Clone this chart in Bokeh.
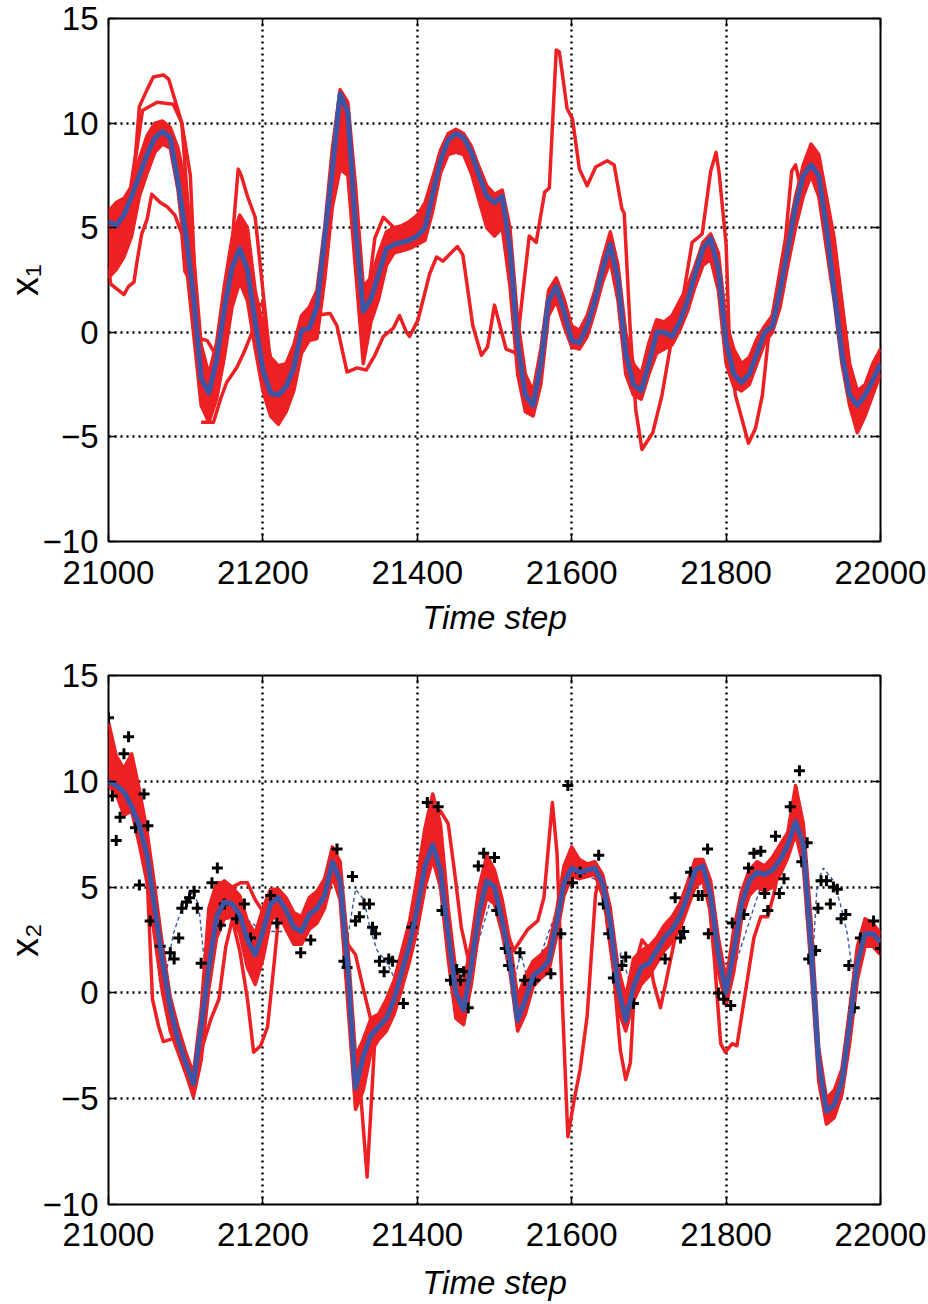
# -*- coding: utf-8 -*-
# Ensemble of forecasts for x1 and x2 over time steps 21000-22000
# red: ensemble members, blue: ensemble mean, black +: observations, dashed: truth

from bokeh.plotting import figure
from bokeh.layouts import column
from bokeh.models import FixedTicker, LinearAxis, Range1d
from bokeh.embed import file_html
from bokeh.resources import INLINE

RED = "#ED2024"
BLUE = "#3B56A6"
FONT = "Liberation Sans"

x_ticks = [21000, 21200, 21400, 21600, 21800, 22000]
y_ticks = [-10, -5, 0, 5, 10, 15]
y_labels = {-10: "\u221210", -5: "\u22125"}

# time axis of mean / band, every 10 steps
steps = list(range(21000, 22001, 10))

# ---- x1 ----
x1_mean = [5.3, 5.1, 5.6, 6.5, 7.5, 8.5, 9.3, 9.6, 9.3, 7.2,
           4.7, 1.8, -2.2, -2.9, -1.3, 1.1, 3.1, 4.0, 3.0, 0.5,
           -1.8, -2.9, -3.0, -2.6, -1.7, 0.1, 0.2, 1.2, 4.5, 7.8,
           11.4, 10.5, 5.0, 1.0, 1.6, 2.8, 4.0, 4.2, 4.3, 4.4,
           4.6, 5.0, 6.6, 8.2, 9.2, 9.5, 9.3, 8.6, 7.5, 6.5,
           6.2, 6.5, 4.0, -0.5, -3.0, -3.5, -1.5, 1.5, 2.2, 1.0,
           -0.4, -0.5, 0.3, 1.5, 3.0, 4.2, 2.5, -1.0, -2.5, -2.8,
           -1.5, 0.0, 0.0, -0.2, 0.5, 1.5, 2.8, 4.0, 4.5, 3.0,
           -0.5, -2.0, -2.4, -2.0, -1.0, 0.0, 0.3, 2.0, 4.0, 6.0,
           7.5, 8.0, 7.5, 5.0, 2.0, -1.0, -3.0, -3.5, -3.0, -2.3,
           -1.5]
x1_lo = [2.6, 3.0, 3.6, 4.6, 6.5, 7.6, 8.6, 9.0, 8.8, 6.8,
         3.5, 0.0, -3.5, -4.3, -3.2, -1.2, 1.2, 2.4, 1.5, -0.8,
         -2.8, -4.0, -4.4, -3.8, -2.8, -1.0, -0.4, -0.3, 2.5, 6.0,
         7.8, 7.5, 3.0, -1.5, 0.5, 1.6, 3.2, 3.8, 3.9, 4.0,
         4.2, 4.4, 5.8, 7.6, 8.5, 8.6, 8.5, 7.6, 6.3, 5.0,
         4.6, 5.0, 2.2, -2.0, -3.8, -4.0, -2.5, 0.8, 1.5, 0.3,
         -0.7, -0.8, -0.2, 1.0, 2.4, 3.4, 1.5, -2.0, -3.0, -3.2,
         -2.0, -1.0, -0.8, -0.6, 0.1, 1.0, 2.2, 3.2, 3.5, 2.0,
         -1.5, -2.6, -2.8, -2.5, -1.5, -0.5, 0.0, 1.2, 3.2, 5.0,
         6.5, 7.5, 6.5, 4.0, 1.5, -1.5, -3.5, -4.8, -4.0, -3.0,
         -2.0]
x1_hi = [5.8, 6.2, 6.4, 7.0, 8.3, 9.4, 10.0, 10.1, 9.8, 8.8,
         7.0, 3.8, -0.6, -2.0, -0.5, 2.2, 4.5, 5.6, 5.0, 2.0,
         0.3, -1.2, -1.6, -1.5, -0.6, 0.8, 1.2, 2.0, 5.0, 8.8,
         11.6, 11.0, 7.0, 2.2, 2.6, 3.8, 4.8, 5.0, 5.1, 5.3,
         5.6, 6.2, 7.4, 8.7, 9.5, 9.7, 9.5, 8.9, 7.9, 7.0,
         6.6, 6.8, 5.0, 0.6, -2.0, -2.8, -0.8, 2.0, 2.6, 1.6,
         0.3, 0.1, 0.8, 2.0, 3.5, 4.8, 3.2, 0.0, -1.5, -2.0,
         -0.5, 0.6, 0.5, 0.8, 1.5, 2.2, 3.2, 4.3, 4.7, 3.8,
         0.5, -0.8, -1.5, -1.2, -0.3, 0.3, 0.8, 2.5, 4.6, 6.5,
         8.0, 9.0, 8.5, 6.5, 4.5, 1.5, -1.5, -2.8, -2.5, -1.5,
         -0.8]

# x1 members that leave the main band
x1_high_a = ([21025, 21035, 21040, 21050, 21058, 21071, 21078, 21087, 21095, 21106, 21112],
             [6.0, 8.5, 10.8, 11.6, 12.2, 12.3, 12.1, 11.0, 10.0, 7.5, 2.5])
x1_high_b = ([21030, 21044, 21063, 21084, 21095, 21103],
             [7.0, 10.6, 11.0, 10.9, 10.0, 6.0])
x1_low_a = ([21000, 21003, 21020, 21026, 21033, 21037, 21043, 21050, 21056, 21067,
             21076, 21086, 21095, 21099, 21106, 21119, 21128, 21136, 21145, 21155],
            [3.1, 2.3, 1.8, 2.2, 2.4, 3.4, 4.7, 5.4, 6.6, 6.2,
             6.0, 5.6, 4.7, 2.9, 2.5, -0.3, -0.4, -0.9, -1.3, 0.5])
x1_low_b = ([21120, 21136, 21145, 21153, 21166, 21175, 21186, 21192, 21200, 21210],
            [-4.3, -4.3, -3.2, -2.4, -1.7, -1.0, 0.0, 1.2, 1.4, -2.0])
x1_spike = ([21155, 21168, 21172, 21180, 21190, 21200, 21210],
            [2.0, 7.8, 7.5, 6.5, 5.5, 2.0, -1.5])
x1_upper = ([21335, 21345, 21356, 21370, 21386, 21400],
            [1.5, 4.5, 5.5, 5.0, 4.7, 4.8])
x1_stray = ([21250, 21265, 21287, 21296, 21309, 21322, 21334, 21345, 21356, 21369,
             21377, 21386, 21390, 21401, 21416, 21425, 21433, 21452, 21459, 21472,
             21483, 21491, 21500, 21515, 21528, 21537, 21545, 21554, 21565, 21571,
             21580, 21584, 21594, 21601, 21610, 21620, 21631, 21646, 21655, 21665,
             21668, 21676, 21683, 21691, 21705, 21717, 21730, 21743, 21756, 21769,
             21780, 21787, 21791, 21800, 21804, 21812, 21829, 21838, 21847, 21855,
             21864, 21877, 21885, 21890, 21896, 21905, 21915],
            [0.0, 0.8, 0.9, 0.3, -1.9, -1.7, -1.8, -1.1, -0.2, 0.2,
             0.8, 0.0, -0.2, 0.6, 2.8, 3.6, 3.4, 4.1, 3.7, 0.3,
             -1.1, -0.7, 1.3, -0.8, -1.0, 2.0, 4.6, 4.3, 6.7, 6.9,
             13.5, 13.4, 10.7, 10.2, 7.8, 7.0, 7.9, 8.2, 8.0, 5.9,
             5.7, 0.0, -3.7, -5.6, -4.8, -3.0, -0.2, 1.4, 4.3, 4.7,
             7.7, 8.6, 7.6, 4.2, -0.2, -3.0, -5.3, -4.6, -3.0, -0.2,
             1.7, 4.5, 7.7, 8.0, 7.0, 7.5, 8.0])
x1_members = [x1_high_a, x1_high_b, x1_low_a, x1_low_b, x1_spike, x1_upper, x1_stray]

# ---- x2 ----
x2_mean = [10.0, 9.8, 9.5, 8.8, 7.9, 6.5, 4.0, 1.5, -0.7, -2.2,
           -3.3, -4.3, -1.6, 1.2, 3.6, 4.3, 4.2, 3.7, 2.5, 1.8,
           2.9, 4.2, 4.5, 3.9, 3.1, 2.9, 3.7, 4.0, 4.6, 6.2,
           5.3, 1.2, -4.5, -3.0, -2.0, -1.6, -1.2, -0.3, 1.0, 2.3,
           4.0, 6.0, 7.0, 5.8, 2.8, 0.0, -0.8, 1.3, 3.8, 5.3,
           5.0, 3.4, 1.6, -1.3, -0.3, 0.8, 1.1, 1.5, 3.2, 5.2,
           5.9, 5.7, 5.8, 5.9, 5.2, 3.3, 0.3, -1.3, 0.3, 1.2,
           1.4, 2.0, 2.6, 3.0, 3.6, 4.6, 5.8, 6.0, 4.6, 1.8,
           0.0, 2.0, 4.2, 5.3, 5.7, 5.6, 5.8, 6.3, 7.0, 8.1,
           7.0, 2.2, -3.3, -5.6, -5.3, -4.2, -1.5, 1.4, 2.8, 2.8,
           2.4]
x2_lo = [9.8, 9.4, 8.4, 8.6, 7.0, 5.2, 2.6, 0.0, -1.8, -2.8,
         -3.8, -4.9, -3.2, 0.2, 2.6, 3.5, 3.6, 2.8, 1.2, 0.4,
         1.6, 3.4, 3.8, 3.0, 2.3, 2.3, 3.0, 3.3, 4.0, 5.5,
         4.4, -0.5, -5.5, -4.6, -2.8, -2.2, -1.8, -1.0, 0.2, 1.5,
         3.0, 5.0, 6.3, 5.0, 1.6, -1.2, -1.5, 0.4, 3.0, 4.5,
         4.2, 2.8, 1.0, -1.8, -1.0, 0.3, 0.7, 1.0, 2.6, 4.6,
         5.5, 5.4, 5.5, 5.6, 4.6, 2.6, -0.8, -1.8, -0.4, 0.4,
         0.8, 1.4, 2.0, 2.4, 3.0, 4.0, 5.0, 5.3, 3.8, 1.0,
         -0.6, 1.0, 3.5, 4.6, 5.0, 4.8, 5.0, 5.6, 6.4, 7.5,
         6.0, 1.2, -4.2, -6.2, -5.9, -4.8, -2.4, 0.6, 2.2, 2.2,
         1.8]
x2_hi = [12.8, 11.2, 10.6, 11.3, 9.6, 7.6, 5.0, 2.2, -0.2, -1.6,
         -2.8, -3.8, -0.8, 4.0, 5.2, 5.2, 5.0, 4.6, 3.4, 2.8,
         4.0, 4.9, 4.9, 4.5, 3.8, 3.6, 4.5, 4.8, 5.4, 6.9,
         6.2, 2.2, -3.0, -2.2, -1.2, -1.0, -0.3, 0.6, 2.0, 3.4,
         5.5, 7.8, 9.4, 8.0, 4.0, 1.0, 0.4, 2.4, 5.0, 6.5,
         5.8, 4.4, 2.4, -0.2, 0.8, 1.5, 1.8, 2.2, 3.8, 6.0,
         6.9, 6.3, 6.1, 6.2, 5.6, 4.0, 1.2, -0.2, 1.6, 2.0,
         2.2, 2.6, 3.2, 3.6, 4.2, 5.2, 6.3, 6.3, 5.3, 2.6,
         0.6, 3.0, 4.8, 5.8, 6.2, 6.0, 6.4, 7.0, 7.6, 9.8,
         8.0, 3.4, -2.6, -5.0, -4.6, -3.6, -0.8, 2.2, 3.5, 3.3,
         2.8]

# x2 members that leave the main band
x2_drop = ([21050, 21057, 21065, 21071, 21089, 21110],
           [5.5, -0.3, -1.6, -2.3, -2.1, -4.5])
x2_lag = ([21110, 21122, 21132, 21143, 21152, 21160, 21170],
          [-4.5, -2.5, -1.3, -0.3, 2.2, 3.4, 3.8])
x2_top = ([21140, 21150, 21160, 21171, 21180, 21190, 21201, 21210],
          [5.0, 5.3, 5.0, 5.2, 5.2, 4.4, 3.8, 4.2])
x2_dip = ([21160, 21170, 21180, 21188, 21197, 21206, 21214, 21222],
          [3.5, 2.0, -0.3, -2.8, -2.5, -1.6, 1.2, 4.2])
x2_slow = ([21300, 21310, 21320, 21330, 21342],
           [5.5, 2.3, 1.8, 0.2, -1.6])
x2_needle = ([21325, 21335, 21345],
             [-4.0, -8.7, -2.2])
x2_late = ([21415, 21430, 21440, 21448, 21457, 21469, 21480],
           [7.5, 8.6, 8.0, 5.8, 3.1, 1.1, 3.0])
x2_swing = ([21510, 21525, 21543, 21556, 21564, 21575, 21581, 21588, 21595, 21603,
             21611, 21620, 21627, 21631, 21637],
            [3.5, 2.0, 3.0, 3.4, 4.5, 9.0, 6.6, -0.5, -6.8, -5.1,
             -3.6, -1.1, 2.6, 4.7, 5.5])
x2_wobble = ([21645, 21654, 21663, 21670, 21676, 21683, 21691, 21698, 21706, 21715,
              21722, 21735],
             [3.5, 1.1, -2.7, -4.1, -3.3, 1.4, 2.5, 2.2, 0.5, -0.7, 0.5, 2.8])
x2_valley = ([21775, 21785, 21793, 21799, 21808, 21814, 21827, 21836, 21845, 21854,
              21862, 21870],
             [5.5, 1.5, -2.4, -2.8, -2.4, -2.5, 0.5, 2.6, 3.6, 3.6, 4.7, 6.2])
x2_members = [x2_drop, x2_lag, x2_top, x2_dip, x2_slow, x2_needle, x2_late,
              x2_swing, x2_wobble, x2_valley]

# truth (dashed), only seen where it leaves the ensemble
truth_t = [21000, 21020, 21040, 21050, 21060, 21067, 21074, 21084, 21097, 21110,
           21117, 21123, 21128, 21140, 21150, 21200, 21250, 21290, 21300, 21308,
           21320, 21331, 21339, 21348, 21361, 21369, 21375, 21390, 21420, 21445,
           21456, 21470, 21500, 21525, 21534, 21540, 21550, 21600, 21640, 21650,
           21659, 21664, 21675, 21700, 21770, 21800, 21850, 21890, 21900, 21912,
           21918, 21926, 21939, 21948, 21957, 21963, 21967, 21980, 22000]
truth_v = [10.0, 9.5, 7.9, 6.0, 2.5, 0.3, 0.8, 2.8, 4.2, 4.8,
           4.1, 1.9, 0.5, 3.6, 4.3, 2.9, 2.9, 6.2, 5.2, 2.2,
           4.9, 4.4, 3.0, 2.0, 1.4, 0.8, 0.3, 2.3, 7.0, 1.5,
           0.8, 1.3, 5.0, 0.5, 1.9, 1.0, 0.8, 5.9, 5.2, 3.3,
           1.5, 1.9, 0.5, 1.4, 6.0, 0.0, 5.6, 8.1, 7.0, 1.5,
           5.2, 5.9, 5.3, 4.2, 2.8, 1.2, 0.1, 2.8, 2.4]

# observations of x2
obs_t = [21000, 21005, 21010, 21015, 21020, 21026, 21035, 21040, 21046, 21051,
         21054, 21067, 21080, 21085, 21091, 21095, 21101, 21105, 21111, 21115,
         21120, 21134, 21141, 21145, 21150, 21166, 21176, 21184, 21210, 21218,
         21249, 21262, 21296, 21305, 21309, 21316, 21320, 21325, 21331, 21338,
         21342, 21346, 21351, 21357, 21363, 21368, 21382, 21393, 21413, 21427,
         21432, 21443, 21451, 21456, 21460, 21466, 21479, 21486, 21500, 21503,
         21514, 21518, 21533, 21539, 21552, 21573, 21586, 21595, 21601, 21611,
         21635, 21641, 21648, 21654, 21665, 21670, 21680, 21721, 21734, 21741,
         21745, 21754, 21764, 21769, 21776, 21777, 21790, 21797, 21806, 21808,
         21823, 21829, 21836, 21845, 21850, 21854, 21864, 21869, 21875, 21883,
         21895, 21898, 21905, 21907, 21916, 21919, 21923, 21930, 21935, 21939,
         21944, 21949, 21955, 21959, 21966, 21974, 21991, 22000]
obs_v = [13.0, 9.3, 7.2, 8.3, 11.3, 12.1, 7.8, 5.1, 9.4, 7.9,
         3.4, 2.2, 1.9, 1.6, 2.6, 4.0, 4.3, 4.5, 4.8, 4.0,
         1.4, 5.2, 5.9, 3.2, 4.2, 3.5, 4.2, 2.6, 4.6, 3.3,
         1.9, 2.5, 6.8, 1.5, 1.2, 5.5, 3.4, 3.6, 4.2, 4.2,
         3.1, 2.8, 1.5, 1.0, 1.6, 1.5, -0.5, 3.1, 9.0, 8.8,
         3.9, 0.6, 1.1, 0.6, 1.0, -0.7, 6.0, 6.6, 6.4, 3.9,
         2.1, 1.3, 1.9, 0.6, 0.6, 0.9, 2.8, 9.8, 5.2, 5.7,
         6.5, 4.2, 2.8, 0.7, 1.3, 1.7, -0.5, 1.6, 4.5, 2.6,
         2.9, 5.7, 4.6, 4.6, 6.8, 2.8, 0.0, -0.3, -0.6, 3.3,
         3.7, 5.9, 6.6, 6.7, 4.7, 3.9, 7.4, 4.7, 5.4, 8.8,
         10.5, 6.2, 7.1, 1.6, 2.0, 4.0, 5.3, 5.3, 4.2, 5.0,
         4.9, 3.5, 3.7, 1.3, -0.7, 2.6, 3.4, 2.1]


def make_panel(ylabel, height, border_top, border_bottom, border_right, tick_gap, label_gap):
    p = figure(width=928, height=height,
               x_range=Range1d(21000, 22000), y_range=Range1d(-10, 15),
               output_backend="svg", toolbar_location=None,
               min_border_left=108, min_border_right=border_right,
               min_border_top=border_top, min_border_bottom=border_bottom,
               x_axis_label="Time step", y_axis_label=ylabel)
    p.outline_line_color = "black"
    p.outline_line_width = 2
    p.background_fill_color = "white"
    p.border_fill_color = "white"

    p.xaxis.ticker = FixedTicker(ticks=x_ticks)
    p.yaxis.ticker = FixedTicker(ticks=y_ticks)
    p.yaxis.major_label_overrides = y_labels

    for ax in p.xaxis + p.yaxis:
        ax.axis_line_color = None
        ax.major_tick_in = 8
        ax.major_tick_out = 0
        ax.major_tick_line_width = 1.5
        ax.major_tick_line_color = "black"
        ax.minor_tick_line_color = None
        ax.major_label_text_font = FONT
        ax.major_label_text_font_size = "33px"
        ax.major_label_text_color = "black"
        ax.axis_label_text_font = FONT
        ax.axis_label_text_color = "black"
    p.xaxis.axis_label_text_font_size = "33px"
    p.xaxis.axis_label_text_font_style = "italic"
    p.xaxis.major_label_standoff = tick_gap
    p.xaxis.axis_label_standoff = label_gap
    p.yaxis.axis_label_text_font_size = "38px"
    p.yaxis.axis_label_text_font_style = "normal"
    p.yaxis.major_label_standoff = 10
    p.yaxis.axis_label_standoff = -6

    # mirrored ticks on the top and right edges, no labels
    for side, ticks in (("right", y_ticks), ("above", x_ticks)):
        ax = LinearAxis(ticker=FixedTicker(ticks=ticks))
        ax.axis_line_color = None
        ax.major_tick_in = 8
        ax.major_tick_out = 0
        ax.major_tick_line_width = 1.5
        ax.major_tick_line_color = "black"
        ax.minor_tick_line_color = None
        ax.major_label_text_color = None
        ax.major_label_standoff = 0
        p.add_layout(ax, side)

    for g in (p.xgrid, p.ygrid):
        g.grid_line_color = "black"
        g.grid_line_width = 2.4
        g.grid_line_dash = "2 4"
    return p


def draw_ensemble(p, lo, hi, members):
    p.varea(x=steps, y1=lo, y2=hi, fill_color=RED)
    p.line(steps, lo, line_color=RED, line_width=3.5, line_join="round")
    p.line(steps, hi, line_color=RED, line_width=3.5, line_join="round")
    for t, v in members:
        p.line(t, v, line_color=RED, line_width=3.5, line_join="round")


# 上图 x1
f1 = make_panel("x\u2081", 650, 18, 109, 46, 19, 12)
draw_ensemble(f1, x1_lo, x1_hi, x1_members)
f1.line(steps, x1_mean, line_color=BLUE, line_width=5, line_join="round")

# 下图 x2
f2 = make_panel("x\u2082", 653, 25, 99, 48, 18, 15)
f2.line(truth_t, truth_v, line_color=BLUE, line_width=1.4, line_dash="4 3")
draw_ensemble(f2, x2_lo, x2_hi, x2_members)
f2.scatter(obs_t, obs_v, marker="cross", size=11, line_color="black", line_width=3)
f2.line(steps, x2_mean, line_color=BLUE, line_width=5, line_join="round")

p = column(f1, f2)
open("out.html", "w").write(file_html(p, INLINE))
